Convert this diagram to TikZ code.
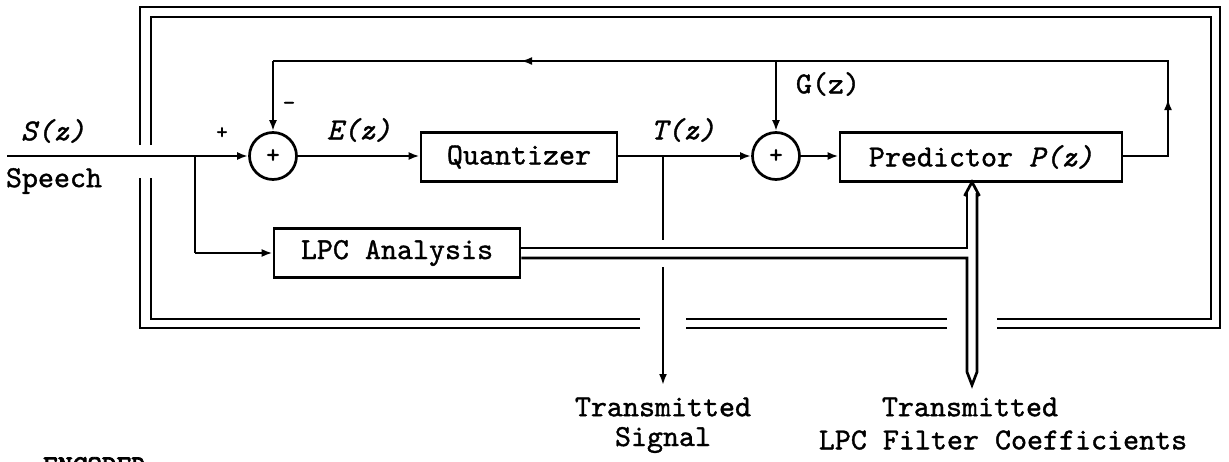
\documentclass[tikz,border=0pt]{standalone}
\usepackage{fontspec}
\setmainfont{lmmono10-regular.otf}[FakeBold=1.2,ItalicFont=lmmono10-italic.otf,ItalicFeatures={FakeBold=1.2},BoldFont=lmmono10-regular.otf,BoldFeatures={FakeBold=3}]
\usetikzlibrary{arrows.meta,calc}
\begin{document}
\begin{tikzpicture}[x=1pt,y=-1pt,
  wire/.style={line width=2.7pt},
  arr/.style={wire,-{Latex[length=11pt,width=8pt]}},
  blk/.style={draw,line width=2.7pt,minimum height=49pt,inner sep=0pt,font=\fontsize{30.5}{34}\selectfont},
  sumnode/.style={draw,circle,line width=2.7pt,minimum size=47pt,inner sep=0pt,font=\fontsize{26}{28}\selectfont},
  lbl/.style={inner sep=0pt,font=\fontsize{30.5}{34}\selectfont},
  ilbl/.style={inner sep=0pt,font=\fontsize{30.5}{34}\selectfont\itshape},
  frm/.style={line width=2.6pt}]
\useasboundingbox (0,0) rectangle (1229,461);

% blocks
\node[sumnode] (s1) at (273,156) {+};
\node[blk,minimum width=196pt] (q) at (519,157) {Quantizer};
\node[sumnode] (s2) at (776,156) {+};
\node[blk,minimum width=282pt] (p) at (981,157) {Predictor \textit{P(z)}};
\node[blk,minimum width=246pt] (lpc) at (397,253) {LPC Analysis};

% coordinates
\coordinate (in) at (7,156);
\coordinate (j1) at (195,156);
\coordinate (j2) at (663,156);
\coordinate (fbR) at (1168,156);
\coordinate (fbTR) at (1168,61);
\coordinate (fbTL) at (273,61);
\coordinate (fbM) at (776,61);
\coordinate (tsA) at (663,240);
\coordinate (tsB) at (663,267);
\coordinate (tsEnd) at (663,385);

% frame (double line)
\draw[frm] (140,145) -- (140,7) -- (1220,7) -- (1220,328) -- (997,328);
\draw[frm] (947,328) -- (686,328);
\draw[frm] (640,328) -- (140,328) -- (140,178);
\draw[frm] (151,145) -- (151,17) -- (1211,17) -- (1211,319) -- (997,319);
\draw[frm] (947,319) -- (686,319);
\draw[frm] (640,319) -- (151,319) -- (151,178);

% signal path
\draw[wire] (in) -- (j1);
\draw[arr] (j1) -- (s1.west);
\draw[arr] (s1.east) -- (q.west |- s1.east);
\draw[wire] (q.east |- j2) -- (j2);
\draw[arr] (j2) -- (s2.west);
\draw[arr] (s2.east) -- (p.west |- s2.east);

% feedback
\draw[wire] (p.east |- fbR) -- (fbR) -- (fbTR) -- (fbTL);
\draw[arr] (fbTL) -- (s1.north);
\draw[arr] (fbR) -- (1168,99);
\draw[arr] (570,61) -- (521,61);
\draw[arr] (fbM) -- (s2.north);

% LPC branch
\draw[wire] (j1) -- (j1 |- lpc.west);
\draw[arr] (j1 |- lpc.west) -- (lpc.west);

% transmitted signal
\draw[wire] (j2) -- (tsA);
\draw[arr] (tsB) -- (tsEnd);

% double channel with arrowheads
\coordinate (cU) at ($(lpc.east)+(0,-5)$);
\coordinate (cL) at ($(lpc.east)+(0,5)$);
\draw[wire,line join=miter] (cU) -- (967,248) -- (967,193);
\draw[wire,line join=miter] (cL) -- (967,258) -- (967,372) -- (972,385) -- (977,372) -- (977,193);
\draw[wire,line join=miter] (964.5,196) -- (972,182) -- (979.5,196);

% labels
\node[ilbl] (lS) at (53,131) {S(z)};
\node[lbl] (lSp) at (54,181) {Speech};
\node[lbl,font=\fontsize{22}{24}\selectfont] (lplus) at (222,133) {+};
\node[lbl,font=\fontsize{24}{26}\selectfont] (lminus) at (289,106) {-};
\node[ilbl] (lE) at (359,130) {E(z)};
\node[ilbl] (lT) at (683,130) {T(z)};
\node[lbl] (lG) at (828,84) {G(z)};
\node[lbl] (t1) at (663,407) {Transmitted};
\node[lbl] (t2) at (663,440) {Signal};
\node[lbl] (t3) at (970,407) {Transmitted};
\node[lbl] (t4) at (1003,440) {LPC Filter Coefficients};
\node[lbl,font=\fontsize{28}{30}\selectfont\bfseries,anchor=north west] (enc) at (43,457) {ENCODER};
\end{tikzpicture}
\end{document}
